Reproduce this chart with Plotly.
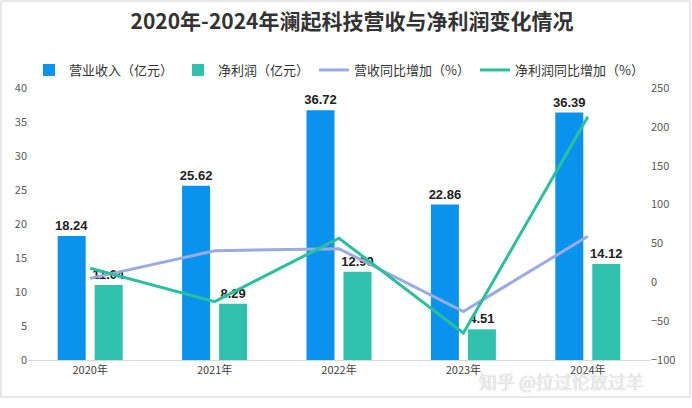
import plotly.graph_objects as go

# 数据
years = ["2020年", "2021年", "2022年", "2023年", "2024年"]
revenue = [18.24, 25.62, 36.72, 22.86, 36.39]       # 营业收入（亿元）
net_profit = [11.04, 8.29, 12.99, 4.51, 14.12]      # 净利润（亿元）
revenue_yoy = [5, 40.5, 43.3, -37.7, 59.2]          # 营收同比增加（%）
profit_yoy = [18, -24.9, 56.7, -65.3, 213.1]        # 净利润同比增加（%）

left_ticks = list(range(0, 45, 5))
right_ticks = list(range(-100, 300, 50))

font_fam = "Liberation Sans, Noto Sans CJK SC, sans-serif"
cjk = "Noto Sans CJK SC, Liberation Sans, sans-serif"

fig = go.Figure()

fig.add_bar(x=years, y=revenue, name="营业收入（亿元）",
            marker=dict(color="#0a93ee", line=dict(width=0)),
            text=[f"{v:.2f}" for v in revenue], textposition="outside",
            constraintext="none",
            textfont=dict(size=13, color="#222222", family=font_fam, weight="bold"),
            cliponaxis=False)
fig.add_bar(x=years, y=net_profit, name="净利润（亿元）",
            marker=dict(color="#2fc0ae", line=dict(width=0)),
            text=[f"{v:.2f}" for v in net_profit], textposition="outside",
            constraintext="none",
            textfont=dict(size=13, color="#222222", family=font_fam, weight="bold"),
            cliponaxis=False)
fig.add_scatter(x=years, y=revenue_yoy, name="营收同比增加（%）", yaxis="y2",
                mode="lines", line=dict(color="#9babe0", width=3))
fig.add_scatter(x=years, y=profit_yoy, name="净利润同比增加（%）", yaxis="y2",
                mode="lines", line=dict(color="#2bbf9e", width=3))

fig.update_layout(
    width=692, height=408,
    margin=dict(l=28, r=42, t=88, b=48),
    paper_bgcolor="white", plot_bgcolor="white",
    font=dict(family=cjk, color="#595959", size=11),
    title=dict(text="2020年-2024年澜起科技营收与净利润变化情况",
               xref="container", x=352 / 692, xanchor="center",
               y=1 - 22 / 408, yanchor="middle",
               font=dict(size=21, color="#333333", family=cjk, weight="bold")),
    barmode="group", bargap=0.405, bargroupgap=0.243,
    showlegend=True,
    legend=dict(orientation="h", x=0.5, xanchor="center", y=1.0 + 18 / 272,
                yanchor="middle", font=dict(size=13, color="#333333", family=cjk),
                itemwidth=30, traceorder="normal"),
    xaxis=dict(showgrid=False, showline=True, linecolor="#d9d9d9", linewidth=1,
               ticks="", automargin=False, tickfont=dict(size=11, color="#404040")),
    yaxis=dict(range=[0, 40], tickvals=left_ticks, showgrid=False, zeroline=False,
               showline=False, ticks="", automargin=False,
               tickfont=dict(size=11, color="#595959")),
    yaxis2=dict(range=[-100, 250], tickvals=right_ticks, overlaying="y", side="right",
                showgrid=False, zeroline=False, showline=False, ticks="",
                automargin=False, tickfont=dict(size=11, color="#595959")),
)

# 外框
fig.add_shape(type="rect", xref="paper", yref="paper",
              x0=-27 / 622, x1=662 / 622, y0=-37 / 272, y1=359 / 272,
              line=dict(color="#d0d0d0", width=1), layer="below")

# 水印
fig.add_annotation(text="知乎 @拉过伦放过羊", xref="paper", yref="paper",
                   x=533 / 622, y=-21 / 272, xanchor="center", yanchor="middle",
                   showarrow=False,
                   font=dict(size=18, color="rgba(255,255,255,0.85)", family=cjk,
                             shadow="0px 0px 1px #8a8a8a"))

fig.write_html("out.html", config={"displayModeBar": False},
               post_script="document.body.style.margin='0';")
